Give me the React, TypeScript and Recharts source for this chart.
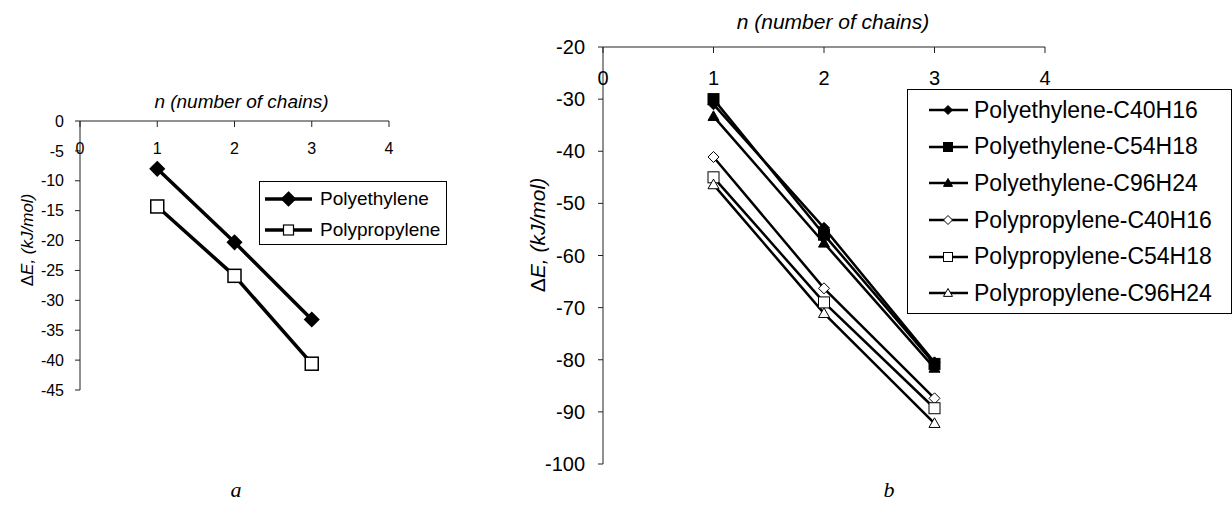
import React from "react";
import { LineChart, Line, XAxis, YAxis, Legend } from "recharts";

const FONT = '"Liberation Sans", Arial, sans-serif';

// n (number of chains)
const nValues = [1, 2, 3];

// panel a
const polyethylene = [-8.0, -20.3, -33.2];
const polypropylene = [-14.3, -25.9, -40.6];
const xTicks = [0, 1, 2, 3, 4];
const yTicksA = [0, -5, -10, -15, -20, -25, -30, -35, -40, -45];

// panel b
const peC40H16 = [-31.0, -54.7, -80.5];
const peC54H18 = [-30.0, -56.0, -80.8];
const peC96H24 = [-33.3, -57.6, -81.6];
const ppC40H16 = [-41.1, -66.3, -87.4];
const ppC54H18 = [-45.0, -69.0, -89.3];
const ppC96H24 = [-46.4, -71.1, -92.2];
const yTicksB = [-20, -30, -40, -50, -60, -70, -80, -90, -100];

type Shape = "diamond" | "square" | "triangle";

const seriesA = [
  { key: "pe", name: "Polyethylene", values: polyethylene, shape: "diamond" as Shape, filled: true, r: 7, lr: 7 },
  { key: "pp", name: "Polypropylene", values: polypropylene, shape: "square" as Shape, filled: false, r: 6.5, lr: 5 },
];

const seriesB = [
  { key: "pe40", name: "Polyethylene-C40H16", values: peC40H16, shape: "diamond" as Shape, filled: true },
  { key: "pe54", name: "Polyethylene-C54H18", values: peC54H18, shape: "square" as Shape, filled: true },
  { key: "pe96", name: "Polyethylene-C96H24", values: peC96H24, shape: "triangle" as Shape, filled: true },
  { key: "pp40", name: "Polypropylene-C40H16", values: ppC40H16, shape: "diamond" as Shape, filled: false },
  { key: "pp54", name: "Polypropylene-C54H18", values: ppC54H18, shape: "square" as Shape, filled: false },
  { key: "pp96", name: "Polypropylene-C96H24", values: ppC96H24, shape: "triangle" as Shape, filled: false },
];

const dataA = nValues.map((n, i) => {
  const row: any = { n };
  seriesA.forEach((s) => (row[s.key] = s.values[i]));
  return row;
});

const dataB = nValues.map((n, i) => {
  const row: any = { n };
  seriesB.forEach((s) => (row[s.key] = s.values[i]));
  return row;
});

function Marker({ cx, cy, shape, filled, r, sw = 1.2 }: any) {
  const fill = filled ? "#000" : "#fff";
  if (shape === "diamond") {
    return <polygon points={`${cx},${cy - r} ${cx + r},${cy} ${cx},${cy + r} ${cx - r},${cy}`} fill={fill} stroke="#000" strokeWidth={sw} />;
  }
  if (shape === "square") {
    return <rect x={cx - r} y={cy - r} width={2 * r} height={2 * r} fill={fill} stroke="#000" strokeWidth={sw} />;
  }
  return <polygon points={`${cx},${cy - r} ${cx + r},${cy + r * 0.75} ${cx - r},${cy + r * 0.75}`} fill={fill} stroke="#000" strokeWidth={sw} />;
}

const makeDot = (shape: Shape, filled: boolean, r: number, sw?: number) => (p: any) => {
  if (p.cx == null || p.cy == null) return <g key={p.index} />;
  return <g key={p.index}><Marker cx={p.cx} cy={p.cy} shape={shape} filled={filled} r={r} sw={sw} /></g>;
};

const yTitle = (cx: number, cy: number, size: number) => () => (
  <text transform={`translate(${cx},${cy}) rotate(-90)`} textAnchor="middle" dominantBaseline="central" fontFamily={FONT} fontSize={size} fill="#000">
    <tspan>Δ</tspan>
    <tspan fontStyle="italic">E, (kJ/mol)</tspan>
  </text>
);

const legendA = () => (
  <div style={{ width: 186, height: 61, border: "1px solid #000", background: "#fff", paddingTop: 1, boxSizing: "content-box" }}>
    {seriesA.map((s) => (
      <div key={s.key} style={{ display: "flex", alignItems: "center", height: 31 }}>
        <svg width={60} height={20} style={{ display: "block" }}>
          <line x1={5} y1={10} x2={52} y2={10} stroke="#000" strokeWidth={3.5} />
          <Marker cx={28.5} cy={10} shape={s.shape} filled={s.filled} r={s.lr} />
        </svg>
        <span style={{ fontFamily: FONT, fontSize: 19, color: "#000", whiteSpace: "nowrap" }}>{s.name}</span>
      </div>
    ))}
  </div>
);

const legendB = () => (
  <div style={{ width: 323, height: 221, border: "1px solid #000", background: "#fff", paddingTop: 2, boxSizing: "content-box" }}>
    {seriesB.map((s) => (
      <div key={s.key} style={{ display: "flex", alignItems: "center", height: 36.6 }}>
        <svg width={66} height={20} style={{ display: "block" }}>
          <line x1={21} y1={10} x2={60} y2={10} stroke="#000" strokeWidth={2.5} />
          <Marker cx={40} cy={10} shape={s.shape} filled={s.filled} r={4.5} sw={1} />
        </svg>
        <span style={{ fontFamily: FONT, fontSize: 23, color: "#000", whiteSpace: "nowrap" }}>{s.name}</span>
      </div>
    ))}
  </div>
);

const axisStroke = "#222";

export default function App() {
  return (
    <div style={{ position: "absolute", left: 0, top: 0, width: 1232, height: 514, background: "#fff", overflow: "hidden" }}>
      <div style={{ position: "absolute", left: 0, top: 0 }}>
        <LineChart width={460} height={440} data={dataA} margin={{ top: 121, right: 71, bottom: 50, left: 20 }}>
          <XAxis
            type="number"
            dataKey="n"
            domain={[0, 4]}
            ticks={xTicks}
            orientation="top"
            mirror
            height={30}
            stroke={axisStroke}
            tickSize={6}
            tickMargin={16}
            tick={{ fill: "#000", fontSize: 16, fontFamily: FONT }}
            label={{ value: "n (number of chains)", position: "top", offset: 13, fontStyle: "italic", fontSize: 19, fontFamily: FONT, fill: "#000", dx: 7 }}
          />
          <YAxis
            type="number"
            domain={[-45, 0]}
            ticks={yTicksA}
            width={60}
            stroke={axisStroke}
            tickSize={5}
            tickMargin={11}
            tick={{ fill: "#000", fontSize: 16, fontFamily: FONT }}
            label={{ content: yTitle(27, 240, 17) }}
          />
          <Legend layout="vertical" align="center" verticalAlign="middle" content={legendA}
            wrapperStyle={{ position: "absolute", left: 259, top: 181, width: "auto" }} />
          {seriesA.map((s) => (
            <Line key={s.key} type="linear" dataKey={s.key} name={s.name} stroke="#000" strokeWidth={3.5}
              dot={makeDot(s.shape, s.filled, s.r, 1.5)} activeDot={false} isAnimationActive={false} />
          ))}
        </LineChart>
      </div>

      <div style={{ position: "absolute", left: 470, top: 0 }}>
        <LineChart width={762} height={514} data={dataB} margin={{ top: 47, right: 187, bottom: 50, left: 63 }}>
          <XAxis
            type="number"
            dataKey="n"
            domain={[0, 4]}
            ticks={xTicks}
            orientation="top"
            mirror
            height={30}
            stroke={axisStroke}
            tickSize={6}
            tickMargin={18}
            tick={{ fill: "#000", fontSize: 20, fontFamily: FONT }}
            label={{ value: "n (number of chains)", position: "top", offset: 18, fontStyle: "italic", fontSize: 21, fontFamily: FONT, fill: "#000", dx: 9 }}
          />
          <YAxis
            type="number"
            domain={[-100, -20]}
            ticks={yTicksB}
            width={70}
            stroke={axisStroke}
            tickSize={5}
            tickMargin={13}
            tick={{ fill: "#000", fontSize: 20, fontFamily: FONT }}
            label={{ content: yTitle(67, 235, 21) }}
          />
          <Legend layout="vertical" align="center" verticalAlign="middle" content={legendB}
            wrapperStyle={{ position: "absolute", left: 437, top: 89, width: "auto" }} />
          {seriesB.map((s) => (
            <Line key={s.key} type="linear" dataKey={s.key} name={s.name} stroke="#000" strokeWidth={2.5}
              dot={makeDot(s.shape, s.filled, 5.5, 1)} activeDot={false} isAnimationActive={false} />
          ))}
        </LineChart>
      </div>

      <div style={{ position: "absolute", left: 226, top: 478, width: 20, textAlign: "center", fontFamily: '"Liberation Serif", "Times New Roman", serif', fontStyle: "italic", fontSize: 22, lineHeight: "24px" }}>a</div>
      <div style={{ position: "absolute", left: 879, top: 478, width: 20, textAlign: "center", fontFamily: '"Liberation Serif", "Times New Roman", serif', fontStyle: "italic", fontSize: 22, lineHeight: "24px" }}>b</div>
    </div>
  );
}
